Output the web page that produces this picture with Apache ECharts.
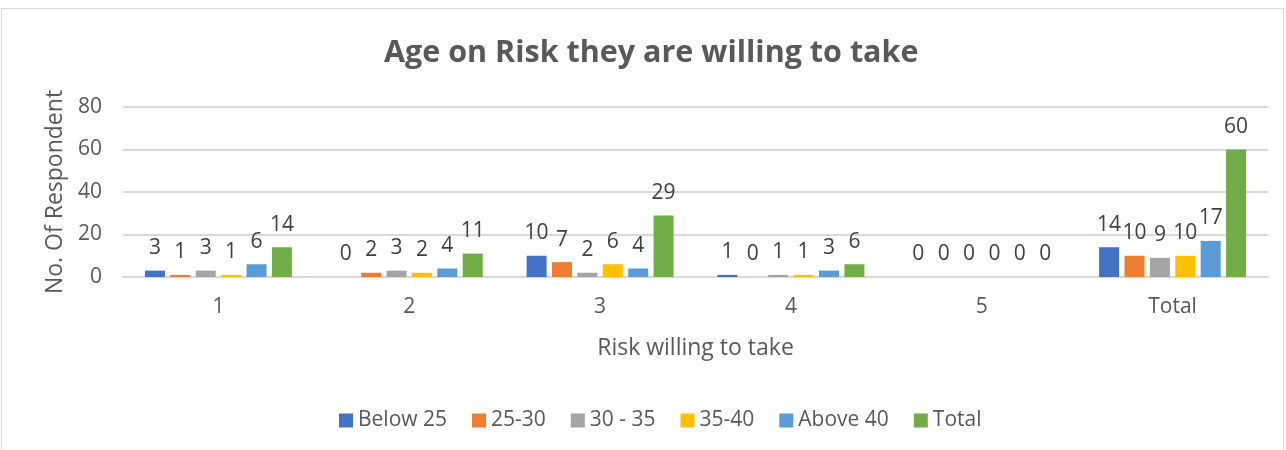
<!DOCTYPE html>
<html><head><meta charset="utf-8">
<script src="https://cdn.jsdelivr.net/npm/echarts@6/dist/echarts.min.js"></script>
<style>
html,body{margin:0;padding:0;background:#fff;}
#frame{position:absolute;left:1px;top:8px;width:1283px;height:450px;border:1px solid #d9d9d9;box-sizing:border-box;}
#c{position:absolute;left:0;top:0;width:1286px;height:450px;}
</style></head>
<body><div id="frame"></div><div id="c"></div>
<script>
const categories = ['1','2','3','4','5','Total'];
const seriesNames = ['Below 25','25-30','30 - 35','35-40','Above 40','Total'];
const below25 = [3,0,10,1,0,14];
const age25to30 = [1,2,7,0,0,10];
const age30to35 = [3,3,2,1,0,9];
const age35to40 = [1,2,6,1,0,10];
const above40 = [6,4,4,3,0,17];
const totals = [14,11,29,6,0,60];
const yTicks = [0,20,40,60,80];
const colors = ['#4472C4','#ED7D31','#A5A5A5','#FFC000','#5B9BD5','#70AD47'];
const values = [below25, age25to30, age30to35, age35to40, above40, totals];
const font = 'Open Sans, Liberation Sans, sans-serif';
const chart = echarts.init(document.getElementById('c'));
chart.setOption({
  animation:false,
  title:{text:'Age on Risk they are willing to take',left:379,top:33,
    textStyle:{fontFamily:font,fontSize:30.5,fontWeight:'bold',color:'#595959'}},
  grid:{left:123,right:18,top:107,bottom:173},
  legend:{top:405,left:334,itemWidth:14,itemHeight:14,itemGap:25,icon:'rect',
    textStyle:{fontFamily:font,fontSize:21,color:'#595959'},data:seriesNames},
  xAxis:{type:'category',data:categories,
    axisLine:{lineStyle:{color:'#d9d9d9',width:2}},axisTick:{show:false},
    axisLabel:{fontFamily:font,fontSize:21,color:'#595959',margin:20},
    name:'Risk willing to take',nameLocation:'middle',nameGap:60,
    nameTextStyle:{fontFamily:font,fontSize:23,color:'#595959'}},
  yAxis:{type:'value',min:yTicks[0],max:yTicks[yTicks.length-1],interval:20,
    splitLine:{lineStyle:{color:'#d9d9d9',width:2}},axisLine:{show:false},axisTick:{show:false},
    axisLabel:{fontFamily:font,fontSize:21,color:'#595959',margin:21},
    name:'No. Of Respondent',nameLocation:'middle',nameGap:56,
    nameTextStyle:{fontFamily:font,fontSize:23,color:'#595959'}},
  series: seriesNames.map((n,i)=>({
    name:n,type:'bar',data:values[i],barWidth:20,barGap:'27%',
    itemStyle:{color:colors[i]},
    label:{show:true,position:'top',distance:12,fontFamily:font,fontSize:21,color:'#404040'}
  }))
});
</script></body></html>
